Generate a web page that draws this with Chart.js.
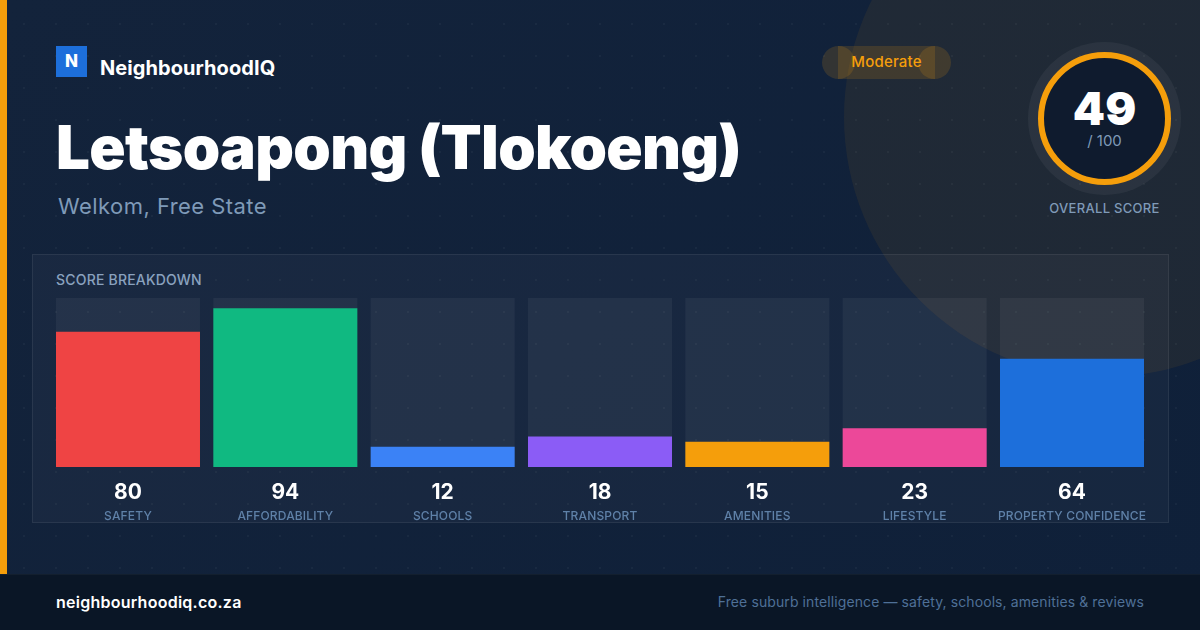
<!DOCTYPE html>
<html lang="en">
<head>
<meta charset="utf-8">
<title>Letsoapong (Tlokoeng) - NeighbourhoodIQ</title>
<script src="https://cdn.jsdelivr.net/npm/chart.js@4/dist/chart.umd.min.js"></script>
<style>
* { margin: 0; padding: 0; box-sizing: border-box; }
html, body { width: 1200px; height: 630px; overflow: hidden; background: #0f1f38; font-family: Inter, sans-serif; }
#page { position: relative; width: 1200px; height: 630px; overflow: hidden; background: linear-gradient(135deg, #13233b 0%, #0f2039 100%); }
#page > * { position: absolute; }
#dots { inset: 0; background-image: radial-gradient(circle at 24px 24px, rgba(255,255,255,.035) 1px, transparent 1.5px); background-size: 32px 32px; }
#glow { left: 844px; top: -143px; width: 520px; height: 520px; border-radius: 50%; background: rgba(245,158,11,.07); }
#accent { left: 0; top: 0; width: 7px; height: 574px; background: #f59e0b; }
#logo { left: 56px; top: 46px; width: 31px; height: 31px; background: #1d6fdb; color: #fff; font-weight: 800; font-size: 17px; line-height: 30px; text-align: center; }
#brand { left: 100px; top: 55px; color: #fff; font-weight: 700; font-size: 20px; line-height: 26px; letter-spacing: .07px; white-space: nowrap; }
#title { left: 56px; top: 108px; color: #fff; font-weight: 900; font-size: 60px; line-height: 78px; letter-spacing: -.65px; white-space: nowrap; }
#subtitle { left: 58px; top: 192px; color: #7f9ab8; font-size: 22px; line-height: 28px; letter-spacing: .45px; white-space: nowrap; }
.pill { background: rgba(245,158,11,.15); }
#pillMid { left: 838px; top: 46px; width: 97px; height: 33px; }
#pillLeft, #pillRight { top: 46px; width: 33px; height: 33px; border-radius: 50%; }
#pillLeft { left: 822px; }
#pillRight { left: 918px; }
#pillText { left: 822px; top: 46px; width: 129px; height: 33px; line-height: 31px; text-align: center; color: #f59e0b; font-weight: 500; font-size: 15px; letter-spacing: .2px; }
#ring { left: 1038px; top: 52px; width: 133px; height: 133px; border-radius: 50%; border: 6px solid #f59e0b; background: #0f1b2e; box-shadow: 0 0 0 10px rgba(255,255,255,.05); }
#scoreValue { left: 1038px; top: 77px; width: 133px; text-align: center; color: #fff; font-weight: 900; font-size: 46px; line-height: 62px; }
#scoreMax { left: 1038px; top: 131px; width: 133px; text-align: center; color: #7f9ab8; font-size: 15px; line-height: 20px; }
#scoreLabel { left: 1024px; top: 199px; width: 161px; text-align: center; color: #7f9ab8; font-size: 13px; font-weight: 500; line-height: 18px; letter-spacing: .3px; }
#panel { left: 32px; top: 254px; width: 1137px; height: 269px; background: rgba(255,255,255,.03); border: 1px solid rgba(255,255,255,.07); }
#panelTitle { left: 56px; top: 271px; color: #8aa2bf; font-size: 14px; font-weight: 500; line-height: 18px; letter-spacing: .2px; white-space: nowrap; }
#chart { left: 0; top: 0; }
#footer { left: 0; top: 574px; width: 1200px; height: 56px; background: #0a1626; border-top: 1px solid rgba(255,255,255,.04); }
#site { left: 56px; top: 592px; color: #fff; font-weight: 600; font-size: 16px; line-height: 20px; letter-spacing: .25px; white-space: nowrap; }
#tagline { right: 56px; top: 592px; color: #4f7097; font-size: 14px; line-height: 20px; letter-spacing: .1px; white-space: nowrap; }
</style>
</head>
<body>
<div id="page">
    <div id="dots"></div>
    <div id="glow"></div>
    <div id="accent"></div>
    <div id="logo">N</div>
    <div id="brand">NeighbourhoodIQ</div>
    <div id="title">Letsoapong (Tlokoeng)</div>
    <div id="subtitle">Welkom, Free State</div>
    <div id="pillMid" class="pill"></div>
    <div id="pillLeft" class="pill"></div>
    <div id="pillRight" class="pill"></div>
    <div id="pillText">Moderate</div>
    <div id="ring"></div>
    <div id="scoreValue"></div>
    <div id="scoreMax">/ 100</div>
    <div id="scoreLabel">OVERALL SCORE</div>
    <div id="panel"></div>
    <div id="panelTitle">SCORE BREAKDOWN</div>
    <canvas id="chart" width="1200" height="630"></canvas>
    <div id="footer"></div>
    <div id="site">neighbourhoodiq.co.za</div>
    <div id="tagline">Free suburb intelligence — safety, schools, amenities &amp; reviews</div>
</div>
<script>
const categorias = ['SAFETY', 'AFFORDABILITY', 'SCHOOLS', 'TRANSPORT', 'AMENITIES', 'LIFESTYLE', 'PROPERTY CONFIDENCE']
const puntajes = [80, 94, 12, 18, 15, 23, 64]
const pistas = [100, 100, 100, 100, 100, 100, 100]
const colores = ['#ef4444', '#10b981', '#3b82f6', '#8b5cf6', '#f59e0b', '#ec4899', '#1d6fdb']
const puntajeTotal = 49

document.querySelector('#scoreValue').textContent = puntajeTotal

// numeros encima de cada etiqueta, en la posicion que da la escala
const numerosPlugin = {
    id: 'numeros',
    beforeDraw(chart) {
        chart.ctx.letterSpacing = '0.15px' // las etiquetas del eje van algo separadas
    },
    afterDatasetsDraw(chart) {
        const { ctx, scales } = chart
        ctx.save()
        ctx.letterSpacing = '0px'
        ctx.font = '700 21px Inter'
        ctx.fillStyle = '#ffffff'
        ctx.textAlign = 'center'
        ctx.textBaseline = 'middle'
        puntajes.forEach((p, i) => {
            ctx.fillText(p, scales.x.getPixelForTick(i), scales.y.bottom + 26)
        })
        ctx.restore()
    }
}

new Chart(document.querySelector('#chart'), {
    type: 'bar',
    data: {
        labels: categorias,
        datasets: [
            { data: puntajes, backgroundColor: colores, order: 0 },
            { data: pistas, backgroundColor: 'rgba(255,255,255,0.05)', order: 1 }
        ]
    },
    options: {
        responsive: false,
        animation: false,
        layout: { padding: { left: 49.33, right: 49.33, top: 298, bottom: 0 } },
        plugins: { legend: { display: false }, tooltip: { enabled: false } },
        datasets: { bar: { grouped: false, categoryPercentage: 1, barPercentage: 144 / 157.33 } },
        scales: {
            y: { display: false, min: 0, max: 100 },
            x: {
                grid: { display: false },
                border: { display: false },
                afterFit: (scale) => { scale.height = 163 },
                ticks: {
                    autoSkip: false,
                    maxRotation: 0,
                    minRotation: 0,
                    padding: 34,
                    color: '#5f81a8',
                    font: { family: 'Inter', size: 12, weight: '500' }
                }
            }
        }
    },
    plugins: [numerosPlugin]
})
</script>
</body>
</html>
